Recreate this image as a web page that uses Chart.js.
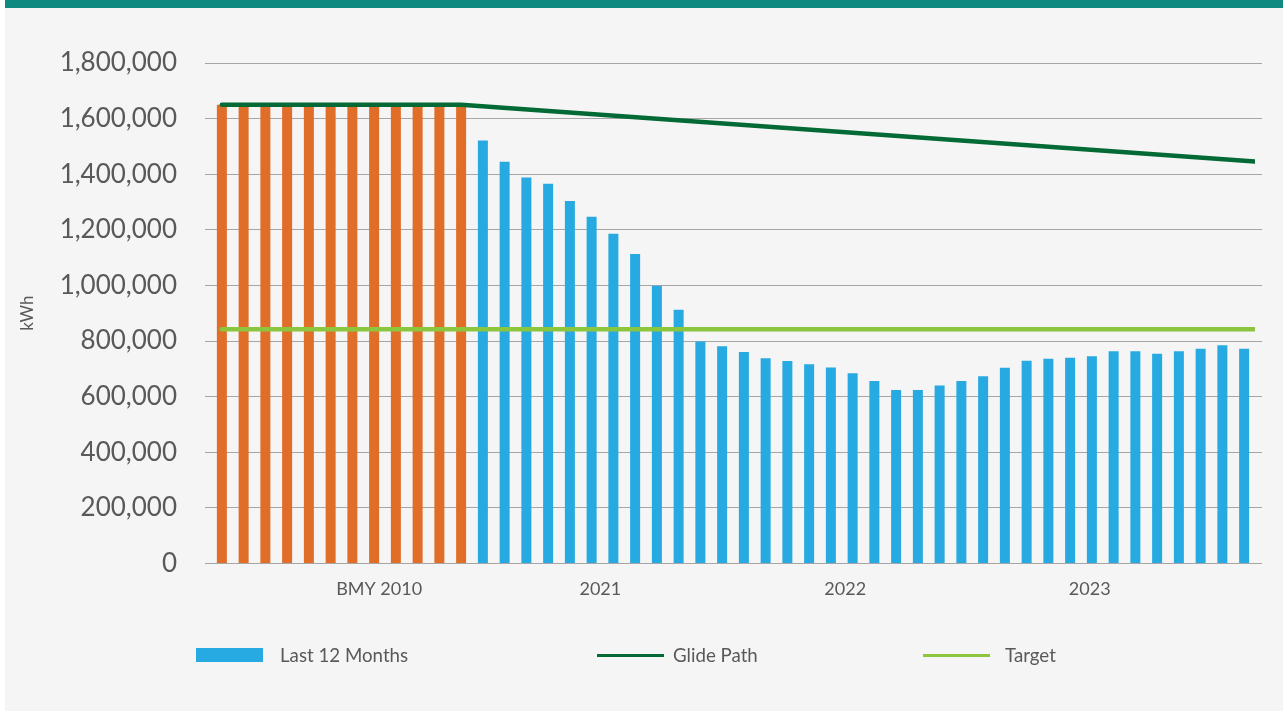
<!DOCTYPE html>
<html>
<head>
<meta charset="utf-8">
<script src="https://cdn.jsdelivr.net/npm/chart.js"></script>
<style>
  html, body { margin: 0; padding: 0; background: #fff; }
  #frame { position: relative; width: 1283px; height: 711px; overflow: hidden; }
  #topbar { position: absolute; left: 5px; top: 0; right: 0; height: 8px; background: #0e8a80; }
  #panel { position: absolute; left: 5px; top: 8px; right: 0; bottom: 0; background: #f5f5f5; }
  #chartBox { position: absolute; left: 0; top: 0; width: 1283px; height: 711px; }
  #legend { position: absolute; left: 196px; top: 644px; display: flex; align-items: center;
            font-family: Lato, sans-serif; font-size: 18.7px; color: #595959; }
  .item { display: flex; align-items: center; }
  .swatch { width: 67px; }
</style>
</head>
<body>
<div id="frame">
  <div id="topbar"></div>
  <div id="panel"></div>
  <div id="chartBox"><canvas id="chart" width="1283" height="711"></canvas></div>
  <div id="legend"></div>
</div>
<script>
// monthly kWh, rolling 12 months; first 12 are the baseline year
const baselineValues = [
  1650000, 1650000, 1650000, 1650000, 1650000, 1650000,
  1650000, 1650000, 1650000, 1650000, 1650000, 1650000
];
const recentValues = [
  1521000, 1445000, 1388000, 1366000, 1304000, 1247000,
  1186000, 1113000, 999000, 912000, 798000, 781000,
  760000, 738000, 728000, 716000, 705000, 684000,
  656000, 624000, 624000, 640000, 656000, 673000,
  704000, 729000, 736000, 740000, 745000, 763000,
  763000, 754000, 763000, 772000, 785000, 772000
];
const kwhValues = [...baselineValues, ...recentValues];
const categories = kwhValues.map((_, i) => "M" + (i + 1));

// axis labels and where they sit along the month index
const xTickLabels = ["BMY 2010", "2021", "2022", "2023"];
const xTickAt = [7.23, 17.4, 28.66, 39.9];

const glideX = [0, 11, 47.5];
const glideValues = [1650000, 1650000, 1446000];
const targetX = [0, 47.5];
const targetValues = [842500, 842500];

const yTicks = { min: 0, max: 1800000, step: 200000 };

const ORANGE = "#e06e29";
const BLUE = "#27a9e1";
const DARK_GREEN = "#036a36";
const LIGHT_GREEN = "#8cc63f";
const GRID = "#a6a6a6";
const TEXT = "#595959";

Chart.defaults.font.family = "Lato, sans-serif";
Chart.defaults.color = TEXT;

const chart = new Chart(document.getElementById("chart"), {
  data: {
    labels: categories,
    datasets: [
      {
        type: "line",
        label: "Glide Path",
        xAxisID: "x2",
        data: glideX.map((x, i) => ({ x, y: glideValues[i] })),
        borderColor: DARK_GREEN,
        borderWidth: 4.5,
        borderCapStyle: "round",
        pointRadius: 0,
        order: 0,
      },
      {
        type: "line",
        label: "Target",
        xAxisID: "x2",
        data: targetX.map((x, i) => ({ x, y: targetValues[i] })),
        borderColor: LIGHT_GREEN,
        borderWidth: 4.5,
        borderCapStyle: "round",
        pointRadius: 0,
        order: 0,
      },
      {
        type: "bar",
        label: "Last 12 Months",
        xAxisID: "x",
        data: kwhValues,
        backgroundColor: (c) => (c.dataIndex < baselineValues.length ? ORANGE : BLUE),
        grouped: false,
        barPercentage: 0.46,
        categoryPercentage: 1,
        order: 1,
      },
    ],
  },
  options: {
    responsive: false,
    animation: false,
    layout: { padding: { left: 0, right: 21, top: 63, bottom: 96 } },
    plugins: {
      legend: { display: false },
      tooltip: { enabled: false },
    },
    scales: {
      x: { display: false, offset: true },
      x2: {
        type: "linear",
        position: "bottom",
        min: -0.5,
        max: 47.5,
        afterBuildTicks(axis) {
          axis.ticks = xTickAt.map((value) => ({ value }));
        },
        ticks: {
          autoSkip: false,
          maxRotation: 0,
          padding: 15,
          font: { size: 18 },
          color: TEXT,
          callback: (value, index) => xTickLabels[index],
        },
        grid: { display: false, drawTicks: false },
        border: { display: false },
      },
      y: {
        min: yTicks.min,
        max: yTicks.max,
        ticks: {
          stepSize: yTicks.step,
          padding: 28,
          font: { size: 26 },
          color: TEXT,
          callback: (v) => v.toLocaleString("en-US"),
        },
        grid: { color: GRID, lineWidth: 1, tickLength: 6, drawTicks: true },
        border: { display: false },
        title: {
          display: true,
          text: "kWh",
          font: { size: 17 },
          color: TEXT,
          padding: { top: 17, bottom: 0 },
        },
        afterFit(axis) {
          axis.width = 211;
        },
      },
      y2: {
        position: "right",
        min: yTicks.min,
        max: yTicks.max,
        ticks: { display: false, stepSize: yTicks.step },
        grid: { drawOnChartArea: false, drawTicks: true, tickLength: 7, color: GRID, lineWidth: 1 },
        border: { display: false },
      },
    },
  },
});

// legend (spaced like the original report)
const legendEl = document.getElementById("legend");
const legendOrder = [2, 0, 1];
const itemWidths = [401, 326, null];
const swatchGaps = [17, 9, 15];
legendOrder.forEach((dsIndex, i) => {
  const ds = chart.data.datasets[dsIndex];
  const item = document.createElement("div");
  item.className = "item";
  if (itemWidths[i]) item.style.width = itemWidths[i] + "px";
  const sw = document.createElement("div");
  sw.className = "swatch";
  sw.style.marginRight = swatchGaps[i] + "px";
  if (ds.type === "bar") {
    sw.style.height = "14px";
    sw.style.background = BLUE;
  } else {
    sw.style.height = "3px";
    sw.style.background = ds.borderColor;
  }
  const label = document.createElement("span");
  label.textContent = ds.label;
  item.appendChild(sw);
  item.appendChild(label);
  legendEl.appendChild(item);
});
</script>
</body>
</html>
